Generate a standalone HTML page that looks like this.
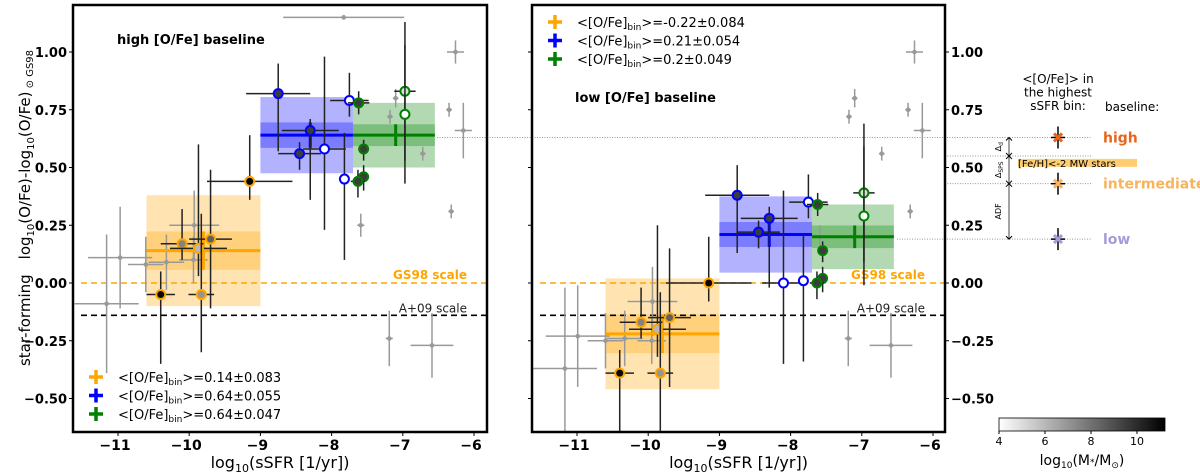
<!DOCTYPE html>
<html><head><meta charset="utf-8"><style>
body{margin:0;background:#fff;font-family:"Liberation Sans","DejaVu Sans",sans-serif;}
svg{display:block}
text{font-family:"DejaVu Sans","Liberation Sans",sans-serif;}
</style></head><body>
<svg id="fig" width="1200" height="472" viewBox="0 0 1200 472" xmlns="http://www.w3.org/2000/svg"></svg>
<script>
// ---- data ----
const xTicks = [-11, -10, -9, -8, -7, -6];
const yTicks = [1.0, 0.75, 0.5, 0.25, 0.0, -0.25, -0.5];
const yTickLabels = ["1.00", "0.75", "0.50", "0.25", "0.00", "\u22120.25", "\u22120.50"];
const ptX = [-10.4, -10.1, -9.87, -9.7, -9.83, -9.15, -8.75, -8.3, -8.45, -8.1, -7.75, -7.82, -7.62, -7.55, -7.55, -7.63, -6.97, -6.97];
const ptYHigh = [-0.05, 0.17, 0.15, 0.19, -0.05, 0.44, 0.82, 0.66, 0.56, 0.58, 0.79, 0.45, 0.78, 0.58, 0.46, 0.44, 0.83, 0.73];
const ptYLow = [-0.39, -0.17, -0.20, -0.15, -0.39, 0.00, 0.38, 0.28, 0.22, 0.00, 0.35, 0.01, 0.34, 0.14, 0.02, 0.00, 0.39, 0.29];
const ptXErr = [0.2, 0.3, 0.4, 0.3, 0.18, 0.6, 0.45, 0.4, 0.3, 0.3, 0.27, 0.05, 0.15, 0.05, 0.05, 0.1, 0.15, 0.05];
const ptYErrDn = [0.3, 0.07, 0.12, 0.3, 0.25, 0.08, 0.25, 0.3, 0.07, 0.35, 0.07, 0.35, 0.05, 0.05, 0.06, 0.07, 0.3, 0.3];
const ptYErrUp = [0.1, 0.15, 0.45, 0.3, 0.35, 0.2, 0.13, 0.05, 0.05, 0.4, 0.12, 0.2, 0.05, 0.04, 0.05, 0.05, 0.3, 0.3];
const ptMass = [11, 7.5, 6, 8.5, 7, 11, 9.5, 9.5, 9.5, 4, 4, 4, 9.5, 9.5, 9.5, 9.5, 5, 4];
const ptBin = [0, 0, 0, 0, 0, 0, 1, 1, 1, 1, 1, 1, 2, 2, 2, 2, 2, 2];
// background (grey) points
const bgXHigh = [-7.83, -11.16, -10.97, -10.61, -10.32, -9.93, -9.94, -7.1, -7.18, -6.35, -6.26, -6.15, -6.72, -6.32, -7.59, -7.19, -6.59];
const bgYHigh = [1.15, -0.09, 0.11, 0.08, 0.09, 0.25, 0.10, 0.80, 0.72, 0.75, 1.00, 0.66, 0.56, 0.31, 0.25, -0.24, -0.27];
const bgXErrHigh = [0.85, 0.45, 0.45, 0.25, 0.25, 0.35, 0.2, 0.04, 0.04, 0.04, 0.12, 0.12, 0.04, 0.04, 0.05, 0.05, 0.3];
const bgYErrHigh = [0.01, 0.3, 0.22, 0.12, 0.12, 0.15, 0.1, 0.04, 0.03, 0.03, 0.05, 0.12, 0.03, 0.03, 0.05, 0.12, 0.14];
const bgXLow = [-11.17, -10.99, -10.6, -10.33, -9.94, -9.95, -7.1, -7.18, -6.35, -6.26, -6.15, -6.72, -6.32, -7.59, -7.19, -6.59];
const bgYLow = [-0.37, -0.23, -0.25, -0.24, -0.08, -0.25, 0.80, 0.72, 0.75, 1.00, 0.66, 0.56, 0.31, 0.20, -0.24, -0.27];
const bgXErrLow = [0.45, 0.45, 0.25, 0.25, 0.35, 0.2, 0.04, 0.04, 0.04, 0.12, 0.12, 0.04, 0.04, 0.05, 0.05, 0.3];
const bgYErrLow = [0.35, 0.22, 0.12, 0.12, 0.15, 0.1, 0.04, 0.03, 0.03, 0.05, 0.12, 0.03, 0.03, 0.05, 0.12, 0.14];
// bins
const binX0 = [-10.6, -9.0, -7.7];
const binX1 = [-9.0, -7.7, -6.55];
const binMid = [-9.8, -8.3, -7.1];
const binMeanHigh = [0.14, 0.64, 0.64];
const binMeanLow = [-0.22, 0.21, 0.2];
const binErrHigh = [0.083, 0.055, 0.047];
const binErrLow = [0.084, 0.054, 0.049];
const binStd = [0.24, 0.165, 0.14];
const legendHigh = ["0.14\u00b10.083", "0.64\u00b10.055", "0.64\u00b10.047"];
const legendLow = ["-0.22\u00b10.084", "0.21\u00b10.054", "0.2\u00b10.049"];
const baselineVals = [0.63, 0.43, 0.19];
const baselineNames = ["high", "intermediate", "low"];
const cbarTicks = [4, 6, 8, 10];

const binCol = ["#ffa500", "#0000ff", "#008000"];
const S = document.getElementById('fig');
const NS = "http://www.w3.org/2000/svg";
function mk(tag, a, parent) { const e = document.createElementNS(NS, tag); for (const k in a) e.setAttribute(k, a[k]); (parent || S).appendChild(e); return e; }
const Y = v => 283 - 231 * v;
function gray(m) { const t = Math.max(0, Math.min(1, (m - 4) / 7.2)); const c = Math.round(255 * (1 - t)); return `rgb(${c},${c},${c})`; }

function panel(x0, x1, xm11, ptY, bgX, bgY, bgXE, bgYE, means, errs, legend, legY, legX, title, titleX, titleY, name) {
  const X = v => xm11 + (v + 11) * 71.2;
  const g = mk('g', {});
  
  
  const clip = 'clip-' + name;
  const cp = mk('clipPath', { id: clip }, g);
  mk('rect', { x: x0, y: 5, width: x1 - x0, height: 427 }, cp);
  const inner = mk('g', { 'clip-path': `url(#${clip})` }, g);
  for (let i = 0; i < 3; i++) {
    const r1 = mk('rect', { x: X(binX0[i]), y: Y(means[i] + binStd[i]), width: X(binX1[i]) - X(binX0[i]), height: 231 * 2 * binStd[i], fill: binCol[i], 'fill-opacity': 0.3 }, inner);
    
    
    const r2 = mk('rect', { x: X(binX0[i]), y: Y(means[i] + errs[i]), width: X(binX1[i]) - X(binX0[i]), height: 231 * 2 * errs[i], fill: binCol[i], 'fill-opacity': 0.3 }, inner);
    
    
  }
  const l1 = mk('line', { x1: x0 + 8, x2: x1, y1: Y(0), y2: Y(0), stroke: '#ffa500', 'stroke-width': 1.6, 'stroke-dasharray': '6,4' }, inner);
  
  
  const l2 = mk('line', { x1: x0 + 8, x2: x1, y1: Y(-0.14), y2: Y(-0.14), stroke: '#000', 'stroke-width': 1.6, 'stroke-dasharray': '6,4' }, inner);
  
  
  const t1 = mk('text', { x: x1 - 20, y: Y(0) - 4, 'text-anchor': 'end', 'font-size': 12, 'font-weight': 'bold', fill: '#ffa500' }, inner);
  t1.textContent = 'GS98 scale';
  
  
  const t2 = mk('text', { x: x1 - 20, y: Y(-0.14) - 3, 'text-anchor': 'end', 'font-size': 12, fill: '#222' }, inner);
  t2.textContent = 'A+09 scale';
  
  
  for (let i = 0; i < bgX.length; i++) {
    const cx = X(bgX[i]), cy = Y(bgY[i]), xe = bgXE[i] * 71.2, ye = bgYE[i] * 231;
    const bg = mk('g', { stroke: '#999', 'stroke-width': 1.5 }, inner);
    
    
    mk('line', { x1: cx - xe, x2: cx + xe, y1: cy, y2: cy }, bg);
    mk('line', { x1: cx, x2: cx, y1: cy - ye, y2: cy + ye }, bg);
    mk('circle', { cx: cx, cy: cy, r: 2.3, fill: '#999', stroke: 'none' }, bg);
  }
  for (let i = 0; i < 3; i++) {
    const bl = mk('line', { x1: X(binX0[i]), x2: X(binX1[i]), y1: Y(means[i]), y2: Y(means[i]), stroke: binCol[i], 'stroke-width': 3 }, inner);
    
    
    const bv = mk('line', { x1: X(binMid[i]), x2: X(binMid[i]), y1: Y(means[i] + errs[i]), y2: Y(means[i] - errs[i]), stroke: binCol[i], 'stroke-width': 3 }, inner);
    
    
  }
  for (let i = 0; i < ptX.length; i++) {
    const cx = X(ptX[i]), cy = Y(ptY[i]);
    const pg = mk('g', { stroke: '#222', 'stroke-width': 1.5 }, inner);
    
    
    mk('line', { x1: cx - ptXErr[i] * 71.2, x2: cx + ptXErr[i] * 71.2, y1: cy, y2: cy }, pg);
    mk('line', { x1: cx, x2: cx, y1: cy - ptYErrUp[i] * 231, y2: cy + ptYErrDn[i] * 231 }, pg);
    mk('circle', { cx: cx, cy: cy, r: 4.5, fill: gray(ptMass[i]), stroke: binCol[ptBin[i]], 'stroke-width': 2 }, pg);
  }
  const fr = mk('rect', { x: x0, y: 5, width: x1 - x0, height: 427, fill: 'none', stroke: '#000', 'stroke-width': 2.5 }, g);
  
  
  for (let i = 0; i < xTicks.length; i++) {
    const xx = X(xTicks[i]);
    mk('line', { x1: xx, x2: xx, y1: 432, y2: 436, stroke: '#000', 'stroke-width': 1 }, g);
    const tl = mk('text', { x: xx - 3, y: 450, 'text-anchor': 'middle', 'font-size': 14, 'font-weight': 'bold' }, g);
    tl.textContent = '\u2212' + Math.abs(xTicks[i]);
    
    
  }
  const xl = mk('text', { x: (x0 + x1) / 2, y: 468, 'text-anchor': 'middle', 'font-size': 16 }, g);
  xl.innerHTML = 'log<tspan font-size="11" dy="4">10</tspan><tspan dy="-4">(sSFR [1/yr])</tspan>';
  
  
  for (let i = 0; i < yTicks.length; i++) {
    mk('line', { x1: x0 - 4, x2: x0, y1: Y(yTicks[i]), y2: Y(yTicks[i]), stroke: '#000', 'stroke-width': 1 }, g);
  }
  for (let i = 0; i < 3; i++) {
    const ly = legY + i * 18.5;
    const lg = mk('g', {}, g);
    
    
    mk('line', { x1: legX - 7, x2: legX + 7, y1: ly, y2: ly, stroke: binCol[i], 'stroke-width': 3.5 }, lg);
    mk('line', { x1: legX, x2: legX, y1: ly - 7, y2: ly + 7, stroke: binCol[i], 'stroke-width': 3.5 }, lg);
    const lt = mk('text', { x: legX + 22, y: ly + 5, 'font-size': 13 }, lg);
    lt.innerHTML = '&lt;[O/Fe]<tspan font-size="9" dy="3">bin</tspan><tspan dy="-3">&gt;=' + legend[i] + '</tspan>';
  }
  const tt = mk('text', { x: titleX, y: titleY, 'font-size': 13, 'font-weight': 'bold' }, g);
  tt.textContent = title;
  
  
  return X;
}

function dotted(x1, x2, v, nm) {
  const d = mk('line', { x1: x1, x2: x2, y1: Y(v), y2: Y(v), stroke: '#999', 'stroke-width': 1, 'stroke-dasharray': '1,1.5' });
  
  
}
dotted(437, 1092, baselineVals[0], 'high-guide-line');
dotted(945, 1092, 0.55, 'mw-guide-line');
dotted(945, 1092, baselineVals[1], 'intermediate-guide-line');
dotted(897, 1092, baselineVals[2], 'low-guide-line');

panel(73, 487, 118, ptYHigh, bgXHigh, bgYHigh, bgXErrHigh, bgYErrHigh, binMeanHigh, binErrHigh, legendHigh, 377, 96, 'high [O/Fe] baseline', 117, 44, 'left-panel');
panel(532, 945, 577, ptYLow, bgXLow, bgYLow, bgXErrLow, bgYErrLow, binMeanLow, binErrLow, legendLow, 22, 555, 'low [O/Fe] baseline', 575, 102, 'right-panel');

for (let i = 0; i < yTicks.length; i++) {
  const a = mk('text', { x: 67, y: Y(yTicks[i]) + 5, 'text-anchor': 'end', 'font-size': 13, 'font-weight': 'bold' });
  a.textContent = yTickLabels[i];
  
  
  mk('line', { x1: 945, x2: 949, y1: Y(yTicks[i]), y2: Y(yTicks[i]), stroke: '#000', 'stroke-width': 1 });
  const b = mk('text', { x: 951, y: Y(yTicks[i]) + 5, 'font-size': 13, 'font-weight': 'bold' });
  b.textContent = yTickLabels[i];
  
  
}
const yt = mk('text', { x: 0, y: 0, transform: 'translate(30,208) rotate(-90)', 'text-anchor': 'middle', 'font-size': 15 });
yt.innerHTML = 'star-forming\u2003log<tspan font-size="10" dy="4">10</tspan><tspan dy="-4">(O/Fe)-log</tspan><tspan font-size="10" dy="4">10</tspan><tspan dy="-4">(O/Fe)</tspan><tspan font-size="10" dy="3"> \u2299 GS98</tspan>';



const ann = mk('g', {});


const hl = ["<[O/Fe]> in", "the highest", "sSFR bin:"];
for (let i = 0; i < 3; i++) { const t = mk('text', { x: 1058, y: 83 + i * 13.5, 'text-anchor': 'middle', 'font-size': 12 }, ann); t.textContent = hl[i]; }
const bl = mk('text', { x: 1105, y: 111, 'font-size': 12 }, ann); bl.textContent = 'baseline:';
const mb = mk('rect', { x: 1018, y: Y(0.52) - 4, width: 119, height: 8, fill: '#ffa500', 'fill-opacity': 0.55 }, ann);


const mt = mk('text', { x: 1018, y: Y(0.52) + 4, 'font-size': 10 }, ann); mt.textContent = '[Fe/H]<-2 MW stars';
const bcol = ["#e8641a", "#f7b45c", "#a89ad8"];
for (let i = 0; i < 3; i++) {
  const y = Y(baselineVals[i]);
  const mg = mk('g', {}, ann);
  
  
  mk('line', { x1: 1058, x2: 1058, y1: y - 11, y2: y + 11, stroke: '#000', 'stroke-width': 1.5 }, mg);
  mk('line', { x1: 1051, x2: 1065, y1: y, y2: y, stroke: '#000', 'stroke-width': 1.5 }, mg);
  mk('path', { d: `M${1054},${y - 4}L${1062},${y + 4}M${1062},${y - 4}L${1054},${y + 4}`, stroke: bcol[i], 'stroke-width': 3 }, mg);
  const t = mk('text', { x: 1103, y: y + 5, 'font-size': 14, 'font-weight': 'bold', fill: bcol[i] }, mg); t.textContent = baselineNames[i];
}
const arr = [[baselineVals[0], 0.55, 'Δ', 'd'], [0.55, baselineVals[1], 'Δ', 'SPS'], [baselineVals[1], baselineVals[2], 'ADF', '']];
for (const a of arr) {
  const y1 = Y(a[0]), y2 = Y(a[1]);
  mk('line', { x1: 1009, x2: 1009, y1: y1, y2: y2, stroke: '#444', 'stroke-width': 1 }, ann);
  mk('path', { d: `M1006,${y1 + 3}L1009,${y1}L1012,${y1 + 3}M1006,${y2 - 3}L1009,${y2}L1012,${y2 - 3}`, stroke: '#000', fill: 'none', 'stroke-width': 1 }, ann);
  const t = mk('text', { x: 0, y: 0, transform: `translate(1001,${(y1 + y2) / 2}) rotate(-90)`, 'text-anchor': 'middle', 'font-size': 8 }, ann);
  t.innerHTML = a[2] + (a[3] ? '<tspan font-size="6" dy="2">' + a[3] + '</tspan>' : '');
}

const defs = mk('defs', {});
const lgd = mk('linearGradient', { id: 'cg', x1: 0, x2: 1, y1: 0, y2: 0 }, defs);
mk('stop', { offset: 0, 'stop-color': '#fff' }, lgd); mk('stop', { offset: 1, 'stop-color': '#000' }, lgd);
const cb = mk('rect', { x: 999, y: 418, width: 166, height: 13, fill: 'url(#cg)', stroke: '#000', 'stroke-width': 0.8 });


const CX = v => 999 + (v - 4) * 23;
for (const t of cbarTicks) {
  mk('line', { x1: CX(t), x2: CX(t), y1: 431, y2: 434, stroke: '#000' });
  const tx = mk('text', { x: CX(t), y: 445, 'text-anchor': 'middle', 'font-size': 11 }); tx.textContent = t;
  
  
}
const cl = mk('text', { x: 1082, y: 465, 'text-anchor': 'middle', 'font-size': 14 });
cl.innerHTML = 'log<tspan font-size="9" dy="3">10</tspan><tspan dy="-3">(M</tspan><tspan font-size="9">*</tspan>/M<tspan font-size="9" dy="3">\u2299</tspan><tspan dy="-3">)</tspan>';


</script>
</body></html>
